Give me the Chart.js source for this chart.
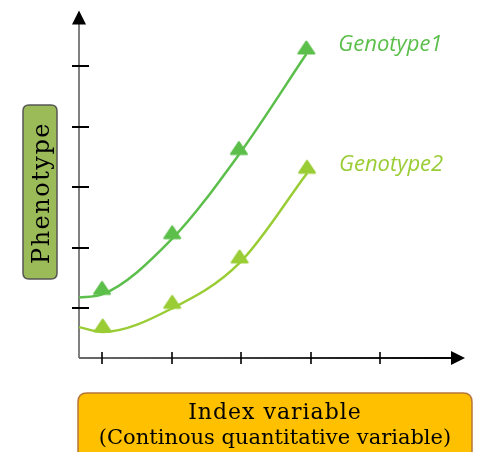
<!DOCTYPE html>
<html>
<head>
<meta charset="utf-8">
<script src="https://cdn.jsdelivr.net/npm/chart.js@4/dist/chart.umd.min.js"></script>
<style>
  html, body { margin: 0; padding: 0; background: #fff; }
</style>
</head>
<body>
<canvas id="chart" width="480" height="452"></canvas>
<script>
// values (x: index units, y: phenotype units, ticks at 1..5)
const xTicks = [1, 2, 3, 4, 5]
const yTicks = [1, 2, 3, 4, 5]
const seriesNames = ['Genotype1', 'Genotype2']
const genotype1X = [0.67, 1.0, 2.01, 2.97, 3.94]
const genotype1Y = [1.18, 1.23, 2.15, 3.54, 5.20]
const genotype2X = [0.67, 1.01, 2.01, 2.98, 3.95]
const genotype2Y = [0.69, 0.61, 1.0, 1.75, 3.23]
const yTitle = 'Phenotype'
const xTitle = ['Index variable', '(Continous quantitative variable)']

const colors = ['#5cbf4b', '#9acd35']

function toPoints (xs, ys) {
  return xs.map((x, i) => ({ x: x, y: ys[i] }))
}

// triangle whose base sits on the data point
function makeTriangle (color) {
  const c = document.createElement('canvas')
  c.width = 22
  c.height = 30
  const g = c.getContext('2d')
  g.fillStyle = color
  g.strokeStyle = color
  g.lineWidth = 2
  g.lineJoin = 'round'
  g.beginPath()
  g.moveTo(11, 2.5)
  g.lineTo(19, 14.5)
  g.lineTo(3, 14.5)
  g.closePath()
  g.fill()
  g.stroke()
  return c
}

function roundRect (ctx, x, y, w, h, r) {
  ctx.beginPath()
  ctx.moveTo(x + r, y)
  ctx.lineTo(x + w - r, y)
  ctx.quadraticCurveTo(x + w, y, x + w, y + r)
  ctx.lineTo(x + w, y + h - r)
  ctx.quadraticCurveTo(x + w, y + h, x + w - r, y + h)
  ctx.lineTo(x + r, y + h)
  ctx.quadraticCurveTo(x, y + h, x, y + h - r)
  ctx.lineTo(x, y + r)
  ctx.quadraticCurveTo(x, y, x + r, y)
  ctx.closePath()
}

const axesPlugin = {
  id: 'arrowAxes',
  beforeDatasetsDraw: function (chart) {
    const ctx = chart.ctx
    const a = chart.chartArea
    const xs = chart.scales.x
    const ys = chart.scales.y
    ctx.save()
    // y axis
    ctx.strokeStyle = '#808080'
    ctx.lineWidth = 2
    ctx.beginPath()
    ctx.moveTo(a.left, a.bottom)
    ctx.lineTo(a.left, a.top + 12)
    ctx.stroke()
    // x axis
    const grad = ctx.createLinearGradient(a.left, 0, a.right, 0)
    grad.addColorStop(0, '#6a6a6a')
    grad.addColorStop(1, '#000')
    ctx.strokeStyle = grad
    ctx.beginPath()
    ctx.moveTo(a.left, a.bottom)
    ctx.lineTo(a.right - 12, a.bottom)
    ctx.stroke()
    // arrow heads
    ctx.fillStyle = '#000'
    ctx.beginPath()
    ctx.moveTo(a.left, a.top)
    ctx.lineTo(a.left + 7, a.top + 14)
    ctx.lineTo(a.left - 7, a.top + 14)
    ctx.closePath()
    ctx.fill()
    ctx.beginPath()
    ctx.moveTo(a.right, a.bottom)
    ctx.lineTo(a.right - 14, a.bottom - 7)
    ctx.lineTo(a.right - 14, a.bottom + 7)
    ctx.closePath()
    ctx.fill()
    // tick marks
    ctx.strokeStyle = '#000'
    ctx.lineWidth = 2
    yTicks.forEach(function (v) {
      const py = Math.round(ys.getPixelForValue(v))
      ctx.beginPath()
      ctx.moveTo(a.left - 7, py)
      ctx.lineTo(a.left + 10, py)
      ctx.stroke()
    })
    ctx.lineWidth = 1.6
    xTicks.forEach(function (v) {
      const px = Math.round(xs.getPixelForValue(v))
      ctx.beginPath()
      ctx.moveTo(px, a.bottom - 6)
      ctx.lineTo(px, a.bottom + 6)
      ctx.stroke()
    })
    ctx.restore()
  },
  afterDraw: function (chart) {
    const ctx = chart.ctx
    ctx.save()
    // series names next to the last point
    ctx.font = 'italic 22px "Open Sans"'
    ctx.textAlign = 'left'
    ctx.textBaseline = 'middle'
    chart.data.datasets.forEach(function (ds, i) {
      const pts = chart.getDatasetMeta(i).data
      const last = pts[pts.length - 1]
      ctx.fillStyle = ds.borderColor
      ctx.fillText(ds.label, last.x + 32, last.y - 9)
    })
    // y title box
    ctx.fillStyle = '#9bbb59'
    ctx.strokeStyle = '#555'
    ctx.lineWidth = 1.5
    roundRect(ctx, 23, 105, 34, 174, 6)
    ctx.fill()
    ctx.stroke()
    ctx.fillStyle = '#000'
    ctx.font = '24px "DejaVu Serif"'
    ctx.letterSpacing = '1.5px'
    ctx.textAlign = 'center'
    ctx.textBaseline = 'alphabetic'
    ctx.translate(49, 193)
    ctx.rotate(-Math.PI / 2)
    ctx.fillText(yTitle, 0, 0)
    ctx.restore()

    ctx.save()
    // x title box
    ctx.fillStyle = '#ffc000'
    ctx.strokeStyle = '#b8773a'
    ctx.lineWidth = 1.5
    roundRect(ctx, 78, 393, 394, 80, 9)
    ctx.fill()
    ctx.stroke()
    ctx.fillStyle = '#000'
    ctx.textAlign = 'center'
    ctx.textBaseline = 'alphabetic'
    ctx.font = '22px "DejaVu Serif"'
    ctx.letterSpacing = '1px'
    ctx.fillText(xTitle[0], 275, 419)
    ctx.font = '21px "DejaVu Serif"'
    ctx.letterSpacing = '0px'
    ctx.fillText(xTitle[1], 275, 444)
    ctx.restore()
  }
}

const ctx = document.getElementById('chart')

const chart = new Chart(ctx, {
  type: 'line',
  data: {
    datasets: [
      {
        label: seriesNames[0],
        data: toPoints(genotype1X, genotype1Y),
        borderColor: colors[0],
        backgroundColor: colors[0],
        borderWidth: 2.5,
        pointStyle: makeTriangle(colors[0]),
        pointRadius: function (c) { return c.dataIndex === 0 ? 0 : 8 },
        cubicInterpolationMode: 'monotone',
        clip: false
      },
      {
        label: seriesNames[1],
        data: toPoints(genotype2X, genotype2Y),
        borderColor: colors[1],
        backgroundColor: colors[1],
        borderWidth: 2.5,
        pointStyle: makeTriangle(colors[1]),
        pointRadius: function (c) { return c.dataIndex === 0 ? 0 : 8 },
        cubicInterpolationMode: 'monotone',
        clip: false
      }
    ]
  },
  options: {
    responsive: false,
    animation: false,
    layout: { padding: { left: 79, right: 15, top: 8, bottom: 94 } },
    plugins: { legend: { display: false }, tooltip: { enabled: false } },
    scales: {
      x: { type: 'linear', display: false, min: 0.669, max: 6.223 },
      y: { type: 'linear', display: false, min: 0.18, max: 5.918 }
    }
  },
  plugins: [axesPlugin]
})
</script>
</body>
</html>
